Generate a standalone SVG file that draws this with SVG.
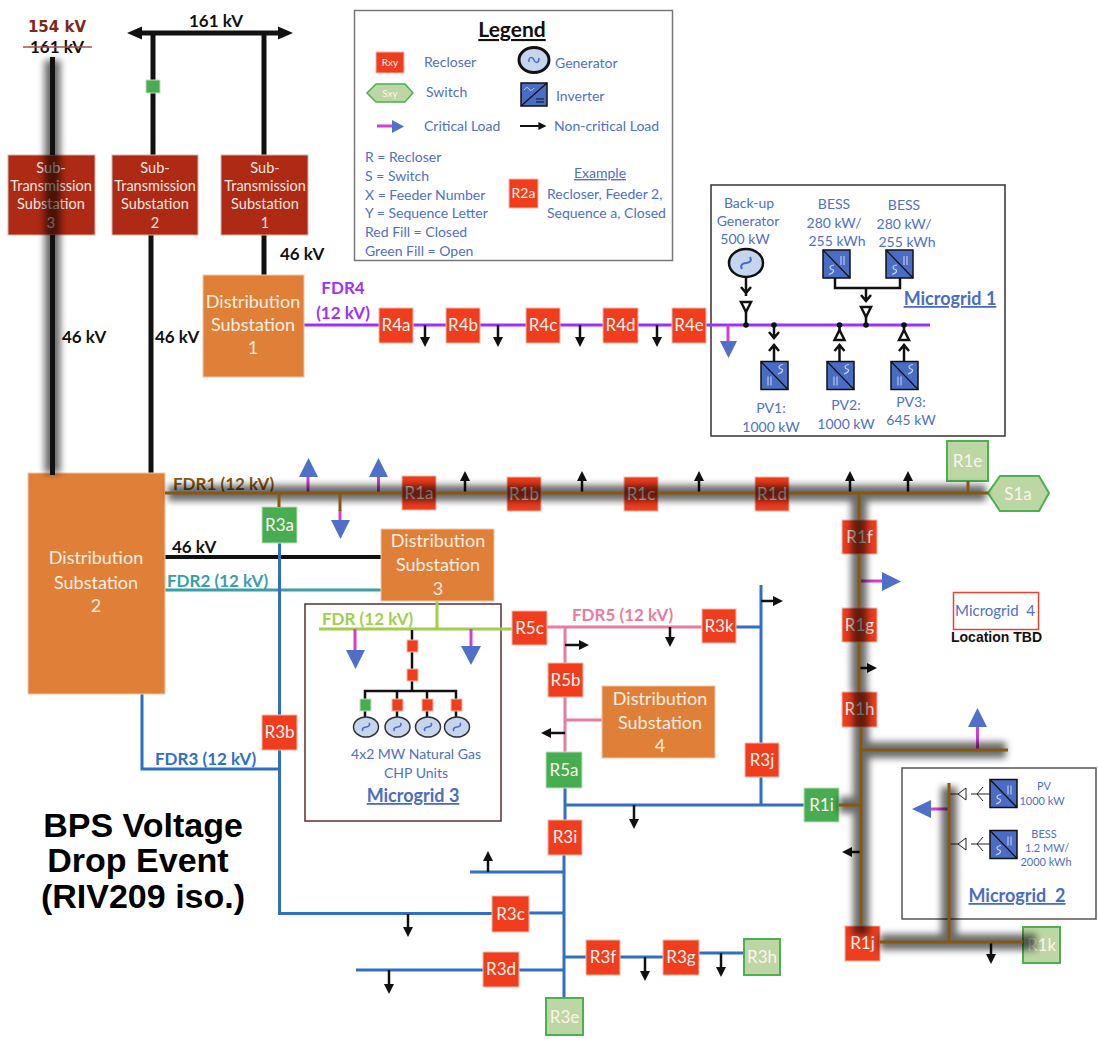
<svg xmlns="http://www.w3.org/2000/svg" xmlns:xlink="http://www.w3.org/1999/xlink" width="1098" height="1039" viewBox="0 0 1098 1039">
<style>
text{font-family:"Lato","Open Sans","Liberation Sans",sans-serif;white-space:pre}
.b{fill:#4f6fc8;font-size:14px}
.m{text-anchor:middle}
.k{fill:#111;font-size:17px;font-weight:700}
.mg{fill:#4a6cc4;font-size:18px;font-weight:700;text-anchor:middle;text-decoration:underline}
.s{fill:#f4e6e0;font-size:14.5px;text-anchor:middle}
.d{fill:#fbeee2;font-size:18px;text-anchor:middle}
.n{fill:#fdf3ec;font-size:17px;text-anchor:middle}
.rc{fill:#ef3d1e;stroke:#f6b8a8;stroke-width:1}
.gc{fill:#47ad50;stroke:#bfe0c0;stroke-width:1}
.oc{fill:#bcd6a4;stroke:#4cb050;stroke-width:2}
.sub{fill:#ae2a14;stroke:#d8b0a8;stroke-width:1}
.ds{fill:#e08038;stroke:#f0c8a8;stroke-width:1}
.bk{stroke:#111;stroke-width:5;fill:none}
.bl{stroke:#2f6fc4;stroke-width:3;fill:none}
.pk{stroke:#e87ca0;stroke-width:3;fill:none}
.pu{stroke:#9b30ff;stroke-width:3;fill:none}
.lg{stroke:#a4cc50;stroke-width:3;fill:none}
.te{stroke:#3a9ea5;stroke-width:3;fill:none}
.br{stroke:#85590f;stroke-width:3;fill:none}
.cr{stroke:#d13fd1;stroke-width:3;fill:none}
.tri{fill:#4f6fc8}
.ar{stroke:#111;stroke-width:2.500;fill:none;marker-end:url(#arr)}
.w{stroke:#111;stroke-width:2.500;fill:none}
.tw{stroke:#111;stroke-width:2.500;fill:#fff}
.thin{stroke:#222;stroke-width:1;fill:none}
.gen{fill:#c5d5ee;stroke:#333;stroke-width:1.500}
.inv{fill:#4a6cc4;stroke:#111;stroke-width:1.500}
</style>
<defs>
<marker id="arr" viewBox="0 0 10 10" refX="2" refY="5" markerWidth="4" markerHeight="4" orient="auto" markerUnits="strokeWidth"><path d="M0 0L10 5L0 10Z" fill="#111"/></marker>
<filter id="blur" filterUnits="userSpaceOnUse" x="0" y="0" width="1098" height="1039"><feGaussianBlur stdDeviation="3.500"/></filter>
<g id="invB"><rect width="27" height="28" class="inv"/><path d="M0 0L27 28" stroke="#111" stroke-width="1.200"/><path d="M18 6V15M21 6V15" stroke="#ccd6f0" stroke-width="1"/><path d="M11 15c-6 1 -4 4 -2 4.500s3 3 -3 5" stroke="#ccd6f0" fill="none" stroke-width="1.200"/></g>
<g id="invP"><rect width="27" height="28" class="inv"/><path d="M0 0L27 28" stroke="#111" stroke-width="1.200"/><path d="M7 15V24M10 15V24" stroke="#ccd6f0" stroke-width="1"/><path d="M22 3c-6 1 -4 4 -2 4.500s3 3 -3 5" stroke="#ccd6f0" fill="none" stroke-width="1.200"/></g>
<g id="genS"><ellipse rx="12.500" ry="10" class="gen"/><path d="M-3 4c-2-3 2-4 3-4s5-1 3-4" fill="none" stroke="#4a6cc4" stroke-width="1.500"/></g>
</defs>
<rect width="1098" height="1039" fill="#fff"/>

<g id="microgrid-boxes">
<rect x="711" y="185" width="294" height="251" fill="#fff" stroke="#333" stroke-width="1.500"/>
<rect x="305" y="604" width="196" height="217" fill="#fff" stroke="#5a3030" stroke-width="1.500"/>
<rect x="902" y="768" width="194" height="151" fill="#fff" stroke="#555" stroke-width="1.500"/>
<rect x="953.500" y="592.500" width="85" height="37" fill="#fff" stroke="#f04030" stroke-width="1.500"/>
</g>

<g id="connectors">
<path class="bk" d="M135 33H285"/>
<path d="M127 33L142 26.500V39.500Z M293 33L278 26.500V39.500Z" fill="#111"/>
<path class="bk" d="M153 33V155M264 33V155M151 235V473M264 235V276"/>
<path stroke="#111" stroke-width="4" d="M165 557H381"/>
<path class="te" d="M165 590H381"/>
<path class="pu" d="M304 325H379M413 325H446M480 325H526M560 325H603M638 325H672M706 325H930"/>
<path class="bl" d="M279.500 543V715M279.500 750V913.500H492M529 913H564M142 694V769H279"/>
<path class="lg" d="M437 601V629M319 629H512"/>
<path class="pk" d="M547 627H702M565 627V663M565 697V752M565 720H602"/>
<path class="bl" d="M736 627H761M761 585V805M565 805H804M565 788V820M564 855V998M470 872H564M564 970H519M483 970H356M564 957H586M620 957H663M699 953H744"/>
<path class="ar" d="M425 325V339"/><path class="ar" d="M498 325V339"/><path class="ar" d="M580 325V339"/><path class="ar" d="M657 325V339"/>
<path class="ar" d="M465 493V479"/><path class="ar" d="M582 493V479"/><path class="ar" d="M699 493V479"/><path class="ar" d="M850 493V479"/><path class="ar" d="M908 493V479"/>
<path class="ar" d="M860 668H869"/><path class="ar" d="M862 852H850"/><path class="ar" d="M991 942V956"/>
<path class="ar" d="M565 645H581"/><path class="ar" d="M565 733H549"/><path class="ar" d="M670 627V639"/>
<path class="ar" d="M761 601H775"/>
<path class="ar" d="M634 805V821"/><path class="ar" d="M488 872V859"/><path class="ar" d="M408 914V929"/><path class="ar" d="M389 970V986"/><path class="ar" d="M645 957V973"/><path class="ar" d="M721 953V969"/>
<path class="cr" d="M728 325V341"/><polygon class="tri" points="720,341 737,341 728.500,358"/>
<path class="cr" d="M308 493V477"/><polygon class="tri" points="299,477 318,477 308.500,458"/>
<path class="cr" d="M378.500 493V477"/><polygon class="tri" points="369,477 388,477 378.500,458"/>
<path class="cr" d="M340 510V520"/><polygon class="tri" points="331,520 350,520 340.500,539"/>
<path class="cr" d="M861 581H882"/><polygon class="tri" points="882,572 882,591 901,581.500"/>
<path class="cr" d="M977.500 750V727"/><polygon class="tri" points="968,727 987,727 977.500,708"/>
<path class="cr" d="M949 809H931"/><polygon class="tri" points="931,800 931,818 912,809"/>
<path class="cr" d="M355 629V650"/><polygon class="tri" points="346,650 365,650 355.500,669"/>
<path class="cr" d="M471 629V646"/><polygon class="tri" points="461,646 481,646 471,665"/>
</g>

<g id="labels">
<text x="57" y="32" text-anchor="middle" style="font-family:'DejaVu Sans',sans-serif;font-size:15px;font-weight:700;fill:#7e2a1a">154 kV</text>
<text x="57" y="53" class="k m">161 kV</text>
<path d="M23 47H92" stroke="#a05050" stroke-width="1.500"/>
<text x="216" y="27" class="k m">161 kV</text>
<text x="280" y="260" class="k">46 kV</text>
<text x="62" y="343" class="k">46 kV</text>
<text x="155" y="343" class="k">46 kV</text>
<text x="172" y="553" class="k">46 kV</text>
<g style="font-size:17px;font-weight:700">
<text x="343" y="294" text-anchor="middle" fill="#9b30ff">FDR4</text>
<text x="343" y="319" text-anchor="middle" fill="#9b30ff">(12 kV)</text>
<text x="173" y="490" fill="#85590f">FDR1 (12 kV)</text>
<text x="167" y="587" fill="#3a9ea5">FDR2 (12 kV)</text>
<text x="322" y="625" fill="#a4cc50">FDR (12 kV)</text>
<text x="572" y="621" fill="#e87ca0">FDR5 (12 kV)</text>
<text x="155" y="765" fill="#2f6fc4">FDR3 (12 kV)</text>
</g>
<g style="font-size:34px;font-weight:700;fill:#000;text-anchor:middle">
<text x="143" y="837" style="font-family:'Liberation Sans',sans-serif">BPS Voltage</text>
<text x="138" y="872" style="font-family:'Liberation Sans',sans-serif">Drop Event</text>
<text x="143" y="908" style="font-family:'Liberation Sans',sans-serif">(RIV209 iso.)</text>
</g>
</g>

<g id="legend">
<rect x="354.500" y="10.500" width="318" height="250" fill="#fff" stroke="#777" stroke-width="1.500"/>
<text x="512" y="37" text-anchor="middle" style="font-size:21px;font-weight:700;fill:#111;text-decoration:underline">Legend</text>
<rect x="376" y="52" width="28" height="21" class="rc"/><text x="390" y="66" text-anchor="middle" style="font-size:10px;fill:#fdf3ec">Rxy</text>
<text x="424" y="67" class="b">Recloser</text>
<ellipse cx="534" cy="60" rx="15" ry="12.500" fill="#c5d5ee" stroke="#111" stroke-width="3"/><path d="M529 62c-1-6 4-5 5-2s5 4 5-2" fill="none" stroke="#4a6cc4" stroke-width="1.500"/>
<text x="555" y="68" class="b">Generator</text>
<polygon points="367,93 376,84 405,84 413,93 405,102 376,102" fill="#bcd6a4" stroke="#4cb050" stroke-width="1.500"/><text x="390" y="97" text-anchor="middle" style="font-size:10px;fill:#fdf3ec">Sxy</text>
<text x="426" y="97" class="b">Switch</text>
<rect x="521" y="83" width="26" height="23" class="inv"/><path d="M521 106L547 83" stroke="#111" stroke-width="1.200"/><path d="M524 90c2-3 4-3 5-1s3 2 5-1" stroke="#ccd6f0" fill="none"/><path d="M536 99h8M536 102h8" stroke="#111"/>
<text x="556" y="101" class="b">Inverter</text>
<path class="cr" d="M377 126H392"/><polygon class="tri" points="392,120 392,133 404,126.500"/>
<text x="424" y="131" class="b">Critical Load</text>
<path stroke="#111" stroke-width="2" d="M520 126H540" marker-end="url(#arr)"/>
<text x="554" y="131" class="b">Non-critical Load</text>
<text x="365" y="162" class="b">R = Recloser</text>
<text x="365" y="181" class="b">S = Switch</text>
<text x="365" y="200" class="b">X = Feeder Number</text>
<text x="365" y="218" class="b">Y = Sequence Letter</text>
<text x="365" y="237" class="b">Red Fill = Closed</text>
<text x="365" y="256" class="b">Green Fill = Open</text>
<rect x="509" y="179" width="29" height="29" class="rc"/><text x="523.500" y="198" text-anchor="middle" style="font-size:14px;fill:#fdf3ec">R2a</text>
<text x="600" y="178" class="b m" text-decoration="underline">Example</text>
<text x="547" y="199" class="b">Recloser, Feeder 2,</text>
<text x="547" y="218" class="b">Sequence a, Closed</text>
</g>

<g id="sub-3"><rect x="8" y="155" width="87" height="80" class="sub"/><text x="51" y="173" class="s">Sub-</text><text x="51" y="191" class="s">Transmission</text><text x="51" y="209" class="s">Substation</text><text x="51" y="228" class="s">3</text></g>
<g id="sub-2"><rect x="112" y="155" width="86" height="80" class="sub"/><text x="155" y="173" class="s">Sub-</text><text x="155" y="191" class="s">Transmission</text><text x="155" y="209" class="s">Substation</text><text x="155" y="228" class="s">2</text></g>
<g id="sub-1"><rect x="221" y="155" width="87" height="80" class="sub"/><text x="265" y="173" class="s">Sub-</text><text x="265" y="191" class="s">Transmission</text><text x="265" y="209" class="s">Substation</text><text x="265" y="228" class="s">1</text></g>
<g id="st2-switch"><rect x="146" y="80" width="14" height="13" class="gc"/></g>

<g id="ds-1"><rect x="203" y="275" width="101" height="102" class="ds"/><text x="253" y="308" class="d">Distribution</text><text x="253" y="331" class="d">Substation</text><text x="253" y="354" class="d">1</text></g>
<g id="ds-2"><rect x="28" y="473" width="137" height="221" class="ds"/><text x="96" y="564" class="d">Distribution</text><text x="96" y="589" class="d">Substation</text><text x="96" y="612" class="d">2</text></g>
<g id="ds-3"><rect x="381" y="529" width="113" height="72" class="ds"/><text x="438" y="547" class="d">Distribution</text><text x="438" y="571" class="d">Substation</text><text x="438" y="595" class="d">3</text></g>
<g id="ds-4"><rect x="602" y="686" width="113" height="72" class="ds"/><text x="660" y="705" class="d">Distribution</text><text x="660" y="729" class="d">Substation</text><text x="660" y="752" class="d">4</text></g>

<g id="r4a"><rect x="379" y="308" width="34" height="35" class="rc"/><text x="396" y="331" class="n">R4a</text></g>
<g id="r4b"><rect x="446" y="308" width="34" height="35" class="rc"/><text x="463" y="331" class="n">R4b</text></g>
<g id="r4c"><rect x="526" y="308" width="34" height="35" class="rc"/><text x="543" y="331" class="n">R4c</text></g>
<g id="r4d"><rect x="603" y="308" width="35" height="35" class="rc"/><text x="620.500" y="331" class="n">R4d</text></g>
<g id="r4e"><rect x="672" y="308" width="34" height="35" class="rc"/><text x="689" y="331" class="n">R4e</text></g>
<g id="r1a"><rect x="402" y="476" width="34" height="34" class="rc"/><text x="419" y="499" class="n">R1a</text></g>
<g id="r1b"><rect x="507" y="477" width="34" height="34" class="rc"/><text x="524" y="500" class="n">R1b</text></g>
<g id="r1c"><rect x="624" y="477" width="34" height="34" class="rc"/><text x="641" y="500" class="n">R1c</text></g>
<g id="r1d"><rect x="755" y="477" width="34" height="34" class="rc"/><text x="772" y="500" class="n">R1d</text></g>
<g id="r1e"><rect x="947" y="441" width="41" height="40" class="oc"/><text x="967.500" y="467" class="n">R1e</text></g>
<g id="s1a"><polygon points="988,493 1000,476 1039,476 1049,493 1039,511 1000,511" class="oc"/><text x="1018" y="500" class="n">S1a</text></g>
<g id="r1f"><rect x="842" y="520" width="35" height="34" class="rc"/><text x="859.500" y="543" class="n">R1f</text></g>
<g id="r1g"><rect x="842" y="608" width="35" height="34" class="rc"/><text x="859.500" y="631" class="n">R1g</text></g>
<g id="r1h"><rect x="842" y="692" width="35" height="35" class="rc"/><text x="859.500" y="715" class="n">R1h</text></g>
<g id="r1i"><rect x="804" y="788" width="35" height="34" class="gc"/><text x="821.500" y="811" class="n">R1i</text></g>
<g id="r1j"><rect x="845" y="926" width="35" height="35" class="rc"/><text x="862.500" y="949" class="n">R1j</text></g>
<g id="r1k"><rect x="1023" y="927" width="37" height="36" class="oc"/><text x="1041.500" y="951" class="n">R1k</text></g>
<g id="r3a"><rect x="262" y="507" width="35" height="36" class="gc"/><text x="279.500" y="531" class="n">R3a</text></g>
<g id="r3b"><rect x="262" y="715" width="35" height="35" class="rc"/><text x="279.500" y="738" class="n">R3b</text></g>
<g id="r3c"><rect x="492" y="896" width="37" height="36" class="rc"/><text x="510.500" y="920" class="n">R3c</text></g>
<g id="r3d"><rect x="483" y="952" width="36" height="35" class="rc"/><text x="501" y="975" class="n">R3d</text></g>
<g id="r3e"><rect x="546" y="998" width="37" height="37" class="oc"/><text x="564.500" y="1023" class="n">R3e</text></g>
<g id="r3f"><rect x="586" y="940" width="34" height="35" class="rc"/><text x="603" y="963" class="n">R3f</text></g>
<g id="r3g"><rect x="663" y="940" width="36" height="35" class="rc"/><text x="681" y="963" class="n">R3g</text></g>
<g id="r3h"><rect x="744" y="939" width="36" height="36" class="oc"/><text x="762" y="963" class="n">R3h</text></g>
<g id="r3i"><rect x="548" y="820" width="34" height="35" class="rc"/><text x="565" y="843" class="n">R3i</text></g>
<g id="r3j"><rect x="745" y="743" width="34" height="34" class="rc"/><text x="762" y="766" class="n">R3j</text></g>
<g id="r3k"><rect x="702" y="609" width="34" height="34" class="rc"/><text x="719" y="632" class="n">R3k</text></g>
<g id="r5a"><rect x="546" y="752" width="36" height="36" class="gc"/><text x="564" y="776" class="n">R5a</text></g>
<g id="r5b"><rect x="548" y="663" width="35" height="34" class="rc"/><text x="565.500" y="686" class="n">R5b</text></g>
<g id="r5c"><rect x="512" y="611" width="35" height="34" class="rc"/><text x="529.500" y="634" class="n">R5c</text></g>

<g id="microgrid-1">
<text x="749" y="208" class="b m">Back-up</text><text x="748" y="226" class="b m">Generator</text><text x="745" y="244" class="b m">500 kW</text>
<text x="834" y="209" class="b m">BESS</text><text x="834" y="228" class="b m">280 kW/</text><text x="837" y="246" class="b m">255 kWh</text>
<text x="904" y="210" class="b m">BESS</text><text x="904" y="229" class="b m">280 kW/</text><text x="907" y="247" class="b m">255 kWh</text>
<text x="950" y="305" class="mg">Microgrid 1</text>
<text x="771" y="413" class="b m">PV1:</text><text x="771" y="432" class="b m">1000 kW</text>
<text x="846" y="410" class="b m">PV2:</text><text x="846" y="429" class="b m">1000 kW</text>
<text x="911" y="407" class="b m">PV3:</text><text x="911" y="425" class="b m">645 kW</text>
<ellipse cx="746" cy="263" rx="17" ry="14" fill="#c5d5ee" stroke="#111" stroke-width="2.500"/><path d="M742 269c-3-5 3-6 4-6s7-1 4-6" fill="none" stroke="#4a6cc4" stroke-width="2"/>
<path class="w" d="M746 277V296M741 287L746 293L751 287M746 305V325"/><polygon class="tw" points="741,302 751,302 746,312"/>
<path class="w" d="M774 325V336M769 332L774 338L779 332M774 344V361M769 351L774 345L779 351"/>
<path class="w" d="M839.500 325V340M839.500 344V361M834.500 351L839.500 345L844.500 351"/><polygon class="tw" points="834.500,340 844.500,340 839.500,330"/>
<path class="w" d="M904 325V340M904 344V361M899 351L904 345L909 351"/><polygon class="tw" points="899,340 909,340 904,330"/>
<path class="w" d="M835 278V288H900V278M866 288V301M861 295L866 301L871 295M866 316V325"/><polygon class="tw" points="861,307 871,307 866,317"/>
<use xlink:href="#invB" href="#invB" x="823" y="250"/><use xlink:href="#invB" href="#invB" x="886" y="250"/>
<use xlink:href="#invP" href="#invP" x="761" y="361.500"/><use xlink:href="#invP" href="#invP" x="827" y="361.500"/><use xlink:href="#invP" href="#invP" x="891" y="361.500"/>
<circle cx="746" cy="325" r="2.800" fill="#111"/><circle cx="774" cy="325" r="2.800" fill="#111"/><circle cx="839.500" cy="325" r="2.800" fill="#111"/><circle cx="866" cy="325" r="2.800" fill="#111"/><circle cx="904" cy="325" r="2.800" fill="#111"/>
</g>

<g id="microgrid-3">
<path class="w" d="M412 630V691M365 720V691H456V720M397 691V720M427 691V720"/>
<rect x="407" y="640" width="11" height="12" class="rc"/><rect x="407" y="669" width="11" height="12" class="rc"/>
<rect x="360" y="699" width="11" height="12" class="gc"/><rect x="392" y="699" width="11" height="12" class="rc"/><rect x="422" y="699" width="11" height="12" class="rc"/><rect x="451" y="699" width="11" height="12" class="rc"/>
<use xlink:href="#genS" href="#genS" x="366" y="727"/><use xlink:href="#genS" href="#genS" x="397.500" y="727"/><use xlink:href="#genS" href="#genS" x="428" y="727"/><use xlink:href="#genS" href="#genS" x="457" y="727"/>
<text x="416" y="759" class="b m">4x2 MW Natural Gas</text><text x="416" y="778" class="b m">CHP Units</text>
<text x="413" y="802" class="mg">Microgrid 3</text>
</g>

<g id="microgrid-2">
<use xlink:href="#invB" href="#invB" x="990" y="779.500"/><use xlink:href="#invB" href="#invB" x="990" y="830.500"/>
<path class="thin" d="M971 794H990M983 787L977 794L983 801M971 844H990M983 837L977 844L983 851M949 794H958M949 844H958"/>
<polygon points="958,794 966,788 966,800" fill="#fff" stroke="#222"/><polygon points="958,844 966,838 966,850" fill="#fff" stroke="#222"/>
<g style="font-size:11px;fill:#4f6fc8;text-anchor:middle"><text x="1044" y="790">PV</text><text x="1042" y="805">1000 kW</text><text x="1044" y="838">BESS</text><text x="1047" y="852">1.2 MW/</text><text x="1046" y="866">2000 kWh</text></g>
<text x="1017" y="902" class="mg">Microgrid  2</text>
</g>

<g id="microgrid-4"><text x="995" y="616" text-anchor="middle" style="font-size:15px;fill:#4f6fc8">Microgrid  4</text>
<text x="996.500" y="642" text-anchor="middle" style="font-family:'Liberation Sans',sans-serif;font-size:14px;font-weight:700;fill:#111">Location TBD</text></g>

<g id="path-shadow" filter="url(#blur)" opacity="0.58"><path fill="none" stroke="#000" stroke-width="16" d="M52.500 60V473M168 493H986M859 493V692M861 692V935M862 750H1006M839 805H862M880 942H1036M949 787V942"/></g>

<g id="energized-connectors">
<path class="bk" d="M52.500 57V155M52.500 235V475"/>
<path class="br" d="M165 493H402M436 493H507M541 493H624M658 493H755M789 493H988M279 493V507M340 493V511M968 481V493M859 493V520M859 554V608M859 642V692M861 727V926M861 750H1008M839 805H861M880 942H1023M949 783V942"/>
</g>
</svg>
